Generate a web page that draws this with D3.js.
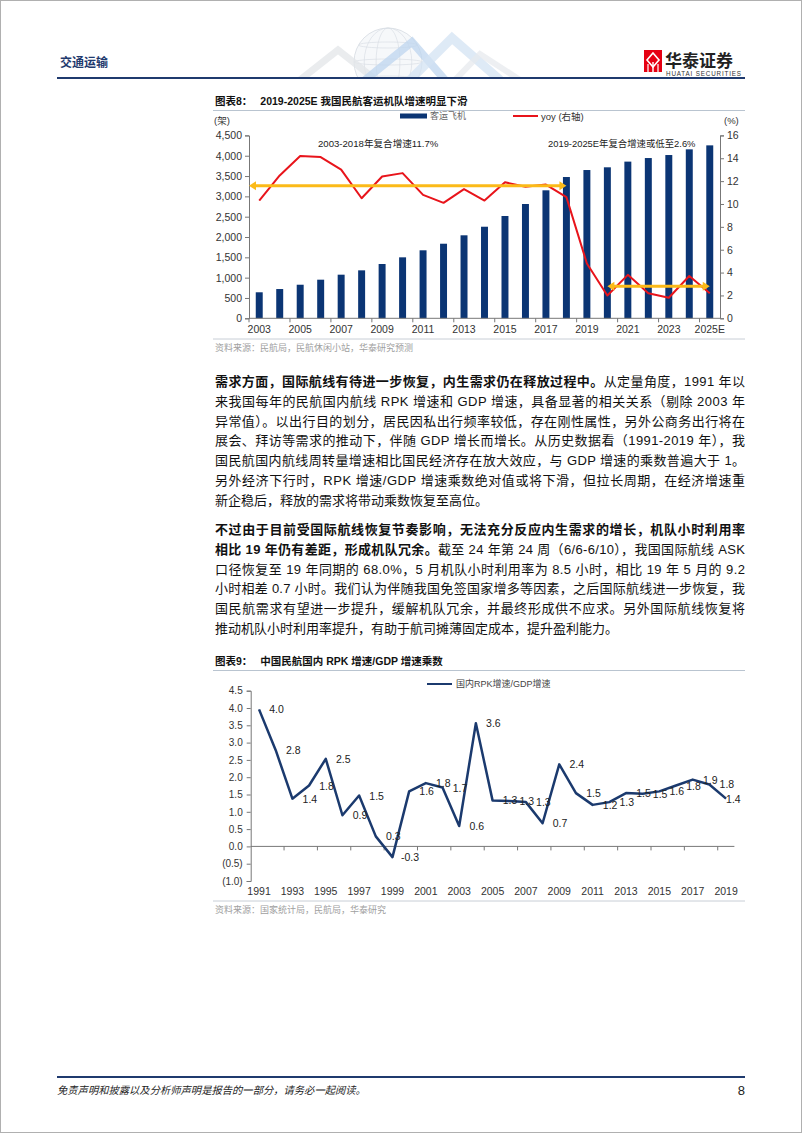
<!DOCTYPE html>
<html><head><meta charset="utf-8">
<script src="https://cdn.jsdelivr.net/npm/d3@7"></script>
<style>body{margin:0;background:#fff}svg{display:block}</style>
</head><body>
<svg id="page" width="802" height="1133"></svg>
<script>
// ---------------- DATA ----------------
const fleetYears = ["2003","2004","2005","2006","2007","2008","2009","2010","2011","2012","2013","2014","2015","2016","2017","2018","2019","2020","2021","2022","2023","2024","2025E"];
const fleetCount = [640,720,826,950,1073,1180,1336,1500,1673,1835,2042,2253,2517,2812,3149,3476,3648,3715,3855,3943,4017,4157,4255];
const fleetYoy = [10.3,12.5,14.2,14.1,13.0,10.5,12.4,12.7,10.8,10.1,11.3,10.3,11.9,11.5,11.7,10.6,4.8,2.0,3.8,2.2,1.8,3.7,2.2];
const fleetLeftTicks = [0,500,1000,1500,2000,2500,3000,3500,4000,4500];
const fleetRightTicks = [0,2,4,6,8,10,12,14,16];
const fleetXLabels = ["2003","2005","2007","2009","2011","2013","2015","2017","2019","2021","2023","2025E"];
const cagrArrows = [
  {from:"2003", to:"2018", value:11.6, startEdge:true},
  {from:"2020", to:"2025E", value:2.8, startEdge:false}
];
const cagrNotes = ["2003-2018年复合增速11.7%","2019-2025E年复合增速或低至2.6%"];

const rpkYears = ["1991","1992","1993","1994","1995","1996","1997","1998","1999","2000","2001","2002","2003","2004","2005","2006","2007","2008","2009","2010","2011","2012","2013","2014","2015","2016","2017","2018","2019"];
const rpkRatio = [3.96,2.78,1.38,1.76,2.53,0.90,1.47,0.29,-0.31,1.59,1.83,1.70,0.59,3.56,1.33,1.31,1.28,0.67,2.37,1.54,1.20,1.28,1.54,1.52,1.59,1.76,1.93,1.79,1.38];
const rpkTicks = [-1,-0.5,0,0.5,1,1.5,2,2.5,3,3.5,4,4.5];
const rpkXLabels = ["1991","1993","1995","1997","1999","2001","2003","2005","2007","2009","2011","2013","2015","2017","2019"];

const para1 = [
 [["需求方面，国际航线有待进一步恢复，内生需求仍在释放过程中。",1],["从定量角度，1991 年以",0]],
 [["来我国每年的民航国内航线 RPK 增速和 GDP 增速，具备显著的相关关系（剔除 2003 年",0]],
 [["异常值）。以出行目的划分，居民因私出行频率较低，存在刚性属性，另外公商务出行将在",0]],
 [["展会、拜访等需求的推动下，伴随 GDP 增长而增长。从历史数据看（1991-2019 年），我",0]],
 [["国民航国内航线周转量增速相比国民经济存在放大效应，与 GDP 增速的乘数普遍大于 1。",0]],
 [["另外经济下行时，RPK 增速/GDP 增速乘数绝对值或将下滑，但拉长周期，在经济增速重",0]],
 [["新企稳后，释放的需求将带动乘数恢复至高位。",0]]
];
const para2 = [
 [["不过由于目前受国际航线恢复节奏影响，无法充分反应内生需求的增长，机队小时利用率",1]],
 [["相比 19 年仍有差距，形成机队冗余。",1],["截至 24 年第 24 周（6/6-6/10），我国国际航线 ASK",0]],
 [["口径恢复至 19 年同期的 68.0%，5 月机队小时利用率为 8.5 小时，相比 19 年 5 月的 9.2",0]],
 [["小时相差 0.7 小时。我们认为伴随我国免签国家增多等因素，之后国际航线进一步恢复，我",0]],
 [["国民航需求有望进一步提升，缓解机队冗余，并最终形成供不应求。另外国际航线恢复将",0]],
 [["推动机队小时利用率提升，有助于航司摊薄固定成本，提升盈利能力。",0]]
];

// ---------------- STYLE ----------------
const FONT = "'Liberation Sans', Arial, 'Noto Sans CJK SC', sans-serif";
const NAVY = "#0b3574";
const LINE2 = "#1b3a6e";
const RED = "#e8141b";
const GOLD = "#fbba18";
const svg = d3.select("#page");

// page frame
svg.append("rect").attr("x",0.5).attr("y",0.5).attr("width",801).attr("height",1132).attr("fill","none").attr("stroke","#b0b0b0");

// ---------------- HEADER ----------------
const hdr = svg.append("g");
const deco = hdr.append("g").attr("opacity",0.75);
deco.append("clipPath").attr("id","hclip").append("rect").attr("x",280).attr("y",25).attr("width",260).attr("height",52);
const dg = deco.append("g").attr("clip-path","url(#hclip)");
const gc = {x:388, y:62, r:34};
dg.append("circle").attr("cx",gc.x).attr("cy",gc.y).attr("r",gc.r).attr("fill","#f4f6f9").attr("stroke","#c8cfd8").attr("stroke-width",0.8);
[0.35,0.7].forEach(k=>dg.append("ellipse").attr("cx",gc.x).attr("cy",gc.y).attr("rx",gc.r*k).attr("ry",gc.r).attr("fill","none").attr("stroke","#cdd4dc").attr("stroke-width",0.7));
[-0.5,0,0.5].forEach(k=>dg.append("ellipse").attr("cx",gc.x).attr("cy",gc.y+gc.r*k).attr("rx",gc.r*Math.sqrt(1-k*k)).attr("ry",3).attr("fill","none").attr("stroke","#cdd4dc").attr("stroke-width",0.7));
const chev = [
  {p:[[300,80],[338,50],[376,80]], c:"#d9dde2", w:7},
  {p:[[365,80],[412,42],[445,80]], c:"#a9c8ea", w:8},
  {p:[[410,80],[452,38],[500,80]], c:"#c5d9ef", w:9},
  {p:[[455,80],[480,54],[520,80]], c:"#dfe3e8", w:6}
];
chev.forEach(o=>dg.append("path").attr("d",d3.line()(o.p)).attr("fill","none").attr("stroke",o.c).attr("stroke-width",o.w).attr("stroke-linejoin","miter").attr("opacity",0.75));

hdr.append("text").attr("x",60).attr("y",63).attr("dominant-baseline","central").attr("font-family",FONT).attr("font-size",12).attr("font-weight","bold").attr("fill","#1f3a6e").text("交通运输");
hdr.append("line").attr("x1",57).attr("x2",745).attr("y1",78).attr("y2",78).attr("stroke","#1f3a6e").attr("stroke-width",2);
const lg = hdr.append("g");
lg.append("rect").attr("x",644).attr("y",50).attr("width",18).attr("height",22).attr("fill","#e60012");
lg.append("path").attr("d","M653 53 L659 60 L653 67 L647 60 Z").attr("fill","none").attr("stroke","#fff").attr("stroke-width",1.6);
lg.append("line").attr("x1",653).attr("x2",653).attr("y1",62).attr("y2",72).attr("stroke","#fff").attr("stroke-width",1.4);
lg.append("line").attr("x1",648).attr("x2",648).attr("y1",64).attr("y2",72).attr("stroke","#fff").attr("stroke-width",1.2);
lg.append("line").attr("x1",658).attr("x2",658).attr("y1",64).attr("y2",72).attr("stroke","#fff").attr("stroke-width",1.2);
lg.append("text").attr("x",665).attr("y",61).attr("dominant-baseline","central").attr("font-family",FONT).attr("font-size",17).attr("font-weight","bold").attr("fill","#222").text("华泰证券");
lg.append("text").attr("x",666).attr("y",73).attr("dominant-baseline","central").attr("font-family",FONT).attr("font-size",6.3).attr("fill","#333").attr("textLength",75).text("HUATAI SECURITIES");

// ---------------- helpers ----------------
function title(y, label, rest){
  const t = svg.append("text").attr("x",215).attr("y",y).attr("dominant-baseline","central").attr("font-family",FONT).attr("font-size",10.5).attr("font-weight","bold").attr("fill","#111");
  t.append("tspan").text(label);
  t.append("tspan").attr("dx",8).text(rest);
  svg.append("line").attr("x1",213).attr("x2",745).attr("y1",y+9.5).attr("y2",y+9.5).attr("stroke","#b9c4d0").attr("stroke-width",1);
}
function source(y, txt){
  svg.append("line").attr("x1",213).attr("x2",745).attr("y1",y-9).attr("y2",y-9).attr("stroke","#c8ced6").attr("stroke-width",1);
  svg.append("text").attr("x",215).attr("y",y).attr("dominant-baseline","central").attr("font-family",FONT).attr("font-size",9).attr("fill","#a0a0a0").text(txt);
}
function styleAxis(g, fs){
  g.selectAll(".domain").attr("stroke","#777");
  g.selectAll(".tick line").attr("stroke","#777");
  g.selectAll("text").attr("font-family",FONT).attr("font-size",fs).attr("fill","#333");
}

// ---------------- CHART 8 ----------------
title(101, "图表8：", "2019-2025E 我国民航客运机队增速明显下滑");
const c1 = {left:249, right:720, top:135.4, bottom:318.3};
const x1 = d3.scaleBand().domain(fleetYears).range([c1.left,c1.right]).paddingInner(0.66).paddingOuter(0.33);
const yL = d3.scaleLinear().domain([0,4500]).range([c1.bottom,c1.top]);
const yR = d3.scaleLinear().domain([0,16]).range([c1.bottom,c1.top]);
const g1 = svg.append("g");

g1.selectAll("rect.bar").data(fleetCount).join("rect").attr("class","bar")
  .attr("x",(d,i)=>x1(fleetYears[i])).attr("y",d=>yL(d))
  .attr("width",x1.bandwidth()).attr("height",d=>yL(0)-yL(d)).attr("fill",NAVY);

const axL = g1.append("g").attr("transform",`translate(${c1.left},0)`)
  .call(d3.axisLeft(yL).tickValues(fleetLeftTicks).tickFormat(d3.format(",")).tickSize(4).tickPadding(3));
styleAxis(axL, 10.5);
const axR = g1.append("g").attr("transform",`translate(${c1.right},0)`)
  .call(d3.axisRight(yR).tickValues(fleetRightTicks).tickSize(4).tickPadding(3));
styleAxis(axR, 10.5);
const axB = g1.append("g").attr("transform",`translate(0,${c1.bottom})`)
  .call(d3.axisBottom(x1).tickValues(fleetXLabels).tickSize(0).tickPadding(7));
styleAxis(axB, 10.5);
axB.select(".domain").attr("d",`M${c1.left},0H${c1.right}`);
const step1 = x1.step();
const b1 = d3.range(0, fleetYears.length+1, 2).map(i=>c1.left + i*step1);
axB.selectAll("line.bt").data(b1).join("line").attr("class","bt")
  .attr("x1",d=>d).attr("x2",d=>d).attr("y1",0).attr("y2",4).attr("stroke","#777");

const cx1 = d=>x1(d)+x1.bandwidth()/2;
g1.append("path").datum(fleetYoy)
  .attr("d",d3.line().x((d,i)=>cx1(fleetYears[i])).y(d=>yR(d)))
  .attr("fill","none").attr("stroke",RED).attr("stroke-width",2).attr("stroke-linejoin","round");

function arrow(x0,x1p,y){
  const g = g1.append("g");
  const h = 7, w = 4.5;
  g.append("line").attr("x1",x0+h-1).attr("x2",x1p-h+1).attr("y1",y).attr("y2",y).attr("stroke",GOLD).attr("stroke-width",3);
  g.append("path").attr("d",`M${x0},${y} L${x0+h},${y-w} L${x0+h},${y+w} Z`).attr("fill",GOLD);
  g.append("path").attr("d",`M${x1p},${y} L${x1p-h},${y-w} L${x1p-h},${y+w} Z`).attr("fill",GOLD);
}
cagrArrows.forEach(a=>{
  const xs = a.startEdge ? x1(a.from) - (x1.step()-x1.bandwidth())/2 : cx1(a.from);
  const xe = cx1(a.to);
  arrow(xs, xe, yR(a.value));
});
g1.append("text").attr("x",318).attr("y",143).attr("dominant-baseline","central").attr("font-family",FONT).attr("font-size",9.6).attr("fill","#222").text(cagrNotes[0]);
g1.append("text").attr("x",548).attr("y",143).attr("dominant-baseline","central").attr("font-family",FONT).attr("font-size",9.4).attr("fill","#222").text(cagrNotes[1]);
g1.append("text").attr("x",214).attr("y",120).attr("dominant-baseline","central").attr("font-family",FONT).attr("font-size",9.5).attr("fill","#333").text("(架)");
g1.append("text").attr("x",724).attr("y",120).attr("dominant-baseline","central").attr("font-family",FONT).attr("font-size",9.5).attr("fill","#333").text("(%)");
g1.append("rect").attr("x",400).attr("y",113.5).attr("width",27).attr("height",5).attr("fill",NAVY);
g1.append("text").attr("x",430).attr("y",116).attr("dominant-baseline","central").attr("font-family",FONT).attr("font-size",9).attr("fill","#666").text("客运飞机");
g1.append("line").attr("x1",513).attr("x2",538).attr("y1",116).attr("y2",116).attr("stroke",RED).attr("stroke-width",2);
g1.append("text").attr("x",541).attr("y",116).attr("dominant-baseline","central").attr("font-family",FONT).attr("font-size",9.5).attr("fill","#333").text("yoy (右轴)");
source(348, "资料来源：民航局，民航休闲小站，华泰研究预测");

// ---------------- PARAGRAPHS ----------------
function paragraph(lines, y0, lh){
  lines.forEach((segs,i)=>{
    const t = svg.append("text").attr("x",215).attr("y",y0+i*lh).attr("dominant-baseline","central")
      .attr("font-family",FONT).attr("font-size",13).attr("fill","#111");
    if(i<lines.length-1) t.attr("textLength",530).attr("lengthAdjust","spacing");
    segs.forEach(s=>t.append("tspan").attr("font-weight",s[1]?"bold":"normal").text(s[0]));
  });
}
paragraph(para1, 381, 19.8);
paragraph(para2, 529, 19.8);

// ---------------- CHART 9 ----------------
title(661, "图表9：", "中国民航国内 RPK 增速/GDP 增速乘数");
const c2 = {left:250.7, right:734.4, top:690.7, bottom:881};
const x2 = d3.scaleBand().domain(rpkYears).range([c2.left,c2.right]).padding(0);
const y2 = d3.scaleLinear().domain([-1,4.5]).range([c2.bottom,c2.top]);
const g2 = svg.append("g");
const loc = d3.formatLocale({decimal:".",thousands:",",grouping:[3],currency:["",""],minus:"-"});
const f1 = loc.format(".1f");

const ay2 = g2.append("g").attr("transform",`translate(${c2.left},0)`)
  .call(d3.axisLeft(y2).tickValues(rpkTicks).tickFormat(d=>d<0?`(${f1(-d)})`:f1(d)).tickSize(4).tickPadding(4));
styleAxis(ay2, 10);
const ax2 = g2.append("g").attr("transform",`translate(0,${c2.bottom})`)
  .call(d3.axisBottom(x2).tickValues(rpkXLabels).tickSize(0).tickPadding(7));
styleAxis(ax2, 10.5);
ax2.select(".domain").remove();
const zg = g2.append("g").attr("transform",`translate(0,${y2(0)})`);
zg.append("line").attr("x1",c2.left).attr("x2",c2.right).attr("stroke","#777");
const b2 = d3.range(2, rpkYears.length+1, 2).map(i=>c2.left + i*x2.step());
zg.selectAll("line.bt").data(b2).join("line").attr("class","bt")
  .attr("x1",d=>d).attr("x2",d=>d).attr("y1",0).attr("y2",4).attr("stroke","#777");

const cx2 = d=>x2(d)+x2.bandwidth()/2;
g2.append("path").datum(rpkRatio)
  .attr("d",d3.line().x((d,i)=>cx2(rpkYears[i])).y(d=>y2(d)))
  .attr("fill","none").attr("stroke",LINE2).attr("stroke-width",2.5).attr("stroke-linejoin","round");
g2.selectAll("text.lbl").data(rpkRatio).join("text").attr("class","lbl")
  .attr("x",(d,i)=>Math.min(cx2(rpkYears[i])+17.5, c2.right-1))
  .attr("y",d=>y2(d)).attr("text-anchor","middle").attr("dominant-baseline","central")
  .attr("font-family",FONT).attr("font-size",10.5).attr("fill","#222").text(d=>f1(d));
g2.append("line").attr("x1",427).attr("x2",452).attr("y1",684).attr("y2",684).attr("stroke",LINE2).attr("stroke-width",2);
g2.append("text").attr("x",456).attr("y",684).attr("dominant-baseline","central").attr("font-family",FONT).attr("font-size",9).attr("fill","#444").text("国内RPK增速/GDP增速");
source(910, "资料来源：国家统计局，民航局，华泰研究");

// ---------------- FOOTER ----------------
svg.append("line").attr("x1",57).attr("x2",745).attr("y1",1077).attr("y2",1077).attr("stroke","#1f3a6e").attr("stroke-width",2);
svg.append("text").attr("x",57).attr("y",1090).attr("dominant-baseline","central").attr("font-family",FONT).attr("font-size",10.3).attr("font-style","italic").attr("fill","#222").text("免责声明和披露以及分析师声明是报告的一部分，请务必一起阅读。");
svg.append("text").attr("x",745).attr("y",1090).attr("text-anchor","end").attr("dominant-baseline","central").attr("font-family",FONT).attr("font-size",13).attr("fill","#222").text("8");
</script>
</body></html>
